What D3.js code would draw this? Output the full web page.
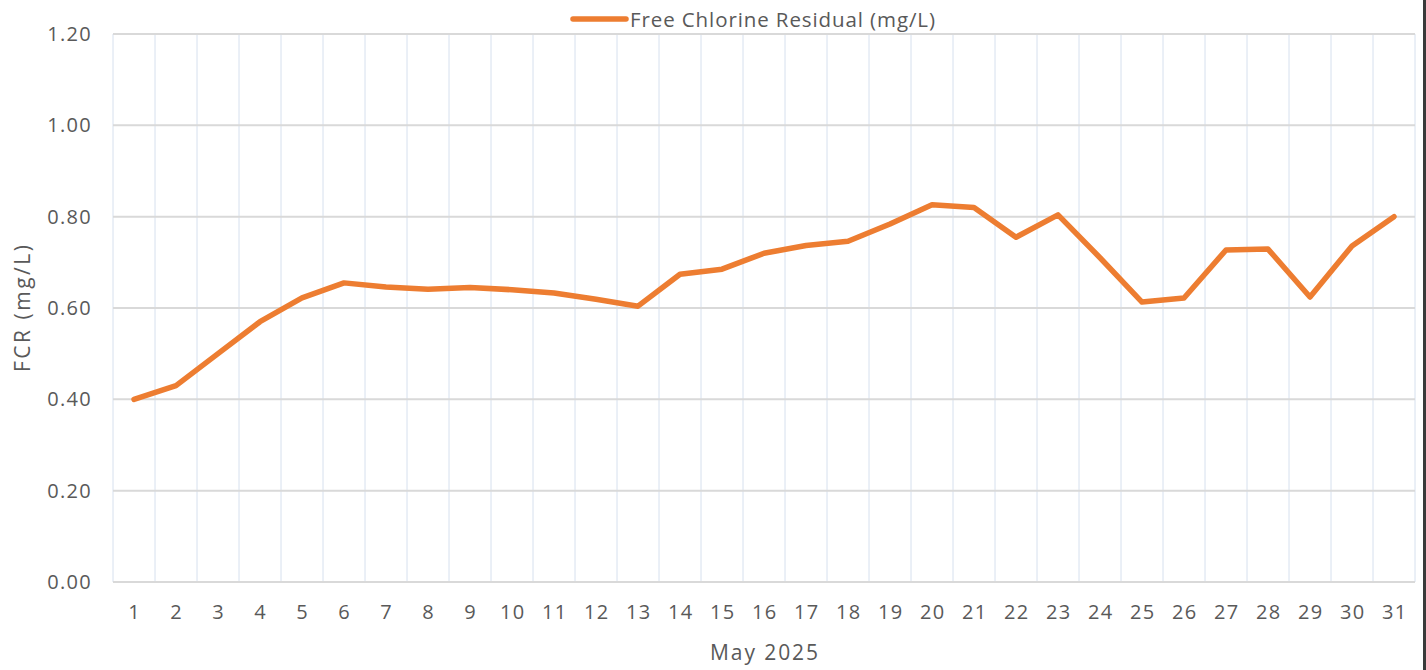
<!DOCTYPE html>
<html><head><meta charset="utf-8">
<script src="https://cdn.jsdelivr.net/npm/d3@7"></script>
<style>body{margin:0;background:#fff;}svg{display:block;font-family:"Open Sans",sans-serif;}</style>
</head><body>
<svg id="chart" width="1426" height="670"></svg>
<script>
const days = d3.range(1, 32).map(String);
const fcr = [0.40,0.43,0.50,0.57,0.622,0.655,0.646,0.641,0.645,0.640,0.633,0.619,0.604,0.674,0.685,0.720,0.737,0.746,0.784,0.826,0.820,0.755,0.804,0.710,0.613,0.622,0.727,0.729,0.624,0.736,0.800];
const yTicks = [0,0.2,0.4,0.6,0.8,1.0,1.2];
const seriesName = "Free Chlorine Residual (mg/L)";
const xTitle = "May 2025", yTitle = "FCR (mg/L)";

const svg = d3.select("#chart");
const m = {l:113, r:1415, t:34, b:582};
const x = d3.scaleBand().domain(days).range([m.l, m.r]);
const y = d3.scaleLinear().domain([0,1.2]).range([m.b, m.t]);
const txt = "#595959";

// vertical grid at band boundaries
const bounds = days.map(d => x(d)).concat([m.r]);
svg.append("g").selectAll("line").data(bounds).join("line")
  .attr("x1", d=>d).attr("x2", d=>d).attr("y1", m.t).attr("y2", m.b)
  .attr("stroke", "#d6e0ee").attr("stroke-width", 1);

// horizontal grid
svg.append("g").selectAll("line").data(yTicks).join("line")
  .attr("x1", m.l).attr("x2", m.r).attr("y1", d=>y(d)).attr("y2", d=>y(d))
  .attr("stroke", "#d9d9d9").attr("stroke-width", 2);

// y axis labels
const yAxis = d3.axisLeft(y).tickValues(yTicks).tickFormat(d3.format(".2f")).tickSize(0).tickPadding(21);
const gy = svg.append("g").attr("transform", `translate(${m.l},0)`).call(yAxis);
gy.select(".domain").remove();
gy.selectAll("text").attr("fill", txt).attr("font-size", 20).attr("font-family", "Open Sans")
  .attr("letter-spacing", 1.3);

// x axis labels
const xAxis = d3.axisBottom(x).tickSize(0).tickPadding(23);
const gx = svg.append("g").attr("transform", `translate(0,${m.b})`).call(xAxis);
gx.select(".domain").remove();
gx.selectAll("text").attr("fill", txt).attr("font-size", 20).attr("font-family", "Open Sans")
  .attr("letter-spacing", 1.3).attr("dx", 0.65);

// line
const line = d3.line().x((d,i)=>x(days[i]) + x.bandwidth()/2).y(d=>y(d));
svg.append("path").datum(fcr).attr("d", line)
  .attr("fill","none").attr("stroke","#ED7D31").attr("stroke-width",5.5)
  .attr("stroke-linejoin","round").attr("stroke-linecap","round");

// titles
svg.append("text").attr("x", 710).attr("y", 660)
  .attr("fill", txt).attr("font-size", 21).attr("textLength", 108).attr("lengthAdjust","spacing").text(xTitle);
svg.append("text").attr("transform","translate(30,372) rotate(-90)")
  .attr("fill", txt).attr("font-size", 21).attr("textLength", 127).attr("lengthAdjust","spacing").text(yTitle);

// legend
svg.append("line").attr("x1",573).attr("x2",626).attr("y1",19).attr("y2",19)
  .attr("stroke","#ED7D31").attr("stroke-width",5.5).attr("stroke-linecap","round");
svg.append("text").attr("x",630).attr("y",26.5).attr("fill",txt).attr("font-size",20.5)
  .attr("textLength",305).attr("lengthAdjust","spacing").text(seriesName);

// right border
svg.append("line").attr("x1",1424.5).attr("x2",1424.5).attr("y1",0).attr("y2",670)
  .attr("stroke","#3a3a3a").attr("stroke-width",3);
</script>
</body></html>
